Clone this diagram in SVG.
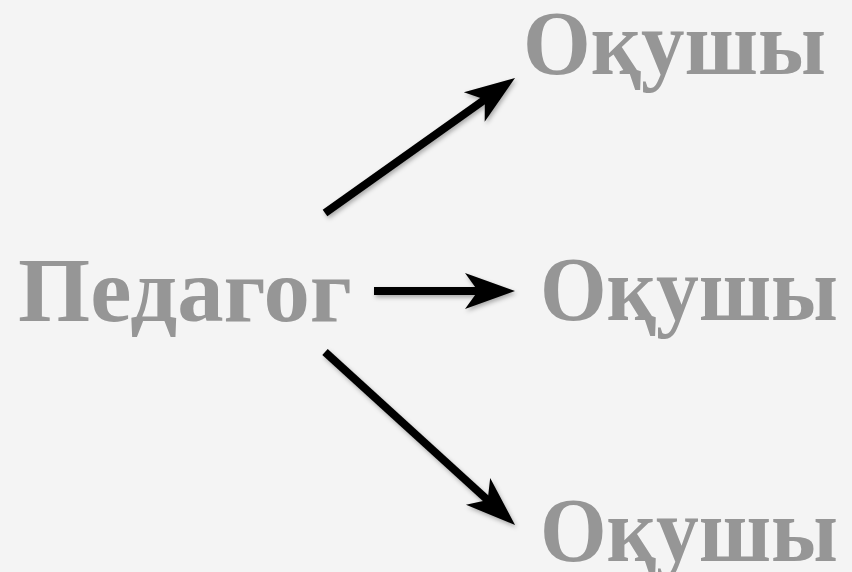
<svg xmlns="http://www.w3.org/2000/svg" width="852" height="572" viewBox="0 0 852 572">
  <style>
    .lbl { font-family: "Liberation Serif", "DejaVu Serif", serif; font-weight: bold; font-size: 90px; fill: #969696; }
    .conn { stroke: #000000; stroke-width: 8; fill: none; stroke-linecap: butt; }
  </style>
  <defs>
    <marker id="ah" markerUnits="userSpaceOnUse" viewBox="-20 -20 60 40" refX="0" refY="0" markerWidth="60" markerHeight="40" orient="auto" overflow="visible">
      <path d="M34,0 L-16,-18 L-3,0 L-16,18 Z" fill="#000000"/>
    </marker>
    <filter id="sh" x="-20%" y="-20%" width="140%" height="140%">
      <feDropShadow dx="1.5" dy="2.5" stdDeviation="2" flood-color="#000000" flood-opacity="0.3"/>
    </filter>
  </defs>
  <rect x="0" y="0" width="852" height="572" fill="#f4f4f4"/>

  <g id="connectors" filter="url(#sh)">
    <line class="conn" x1="325" y1="213" x2="487.3" y2="97.7" marker-end="url(#ah)"/>
    <line class="conn" x1="374" y1="291" x2="481" y2="291" marker-end="url(#ah)"/>
    <line class="conn" x1="325" y1="352" x2="489.9" y2="502.1" marker-end="url(#ah)"/>
  </g>

  <g id="pedagog">
    <text class="lbl" x="18" y="321" textLength="334" lengthAdjust="spacingAndGlyphs">Педагог</text>
  </g>
  <g id="okushy-top">
    <text class="lbl" x="523" y="74" textLength="303" lengthAdjust="spacingAndGlyphs">Оқушы</text>
  </g>
  <g id="okushy-middle">
    <text class="lbl" x="540" y="320" textLength="298" lengthAdjust="spacingAndGlyphs">Оқушы</text>
  </g>
  <g id="okushy-bottom">
    <text class="lbl" x="540" y="561" textLength="298" lengthAdjust="spacingAndGlyphs">Оқушы</text>
  </g>
</svg>
